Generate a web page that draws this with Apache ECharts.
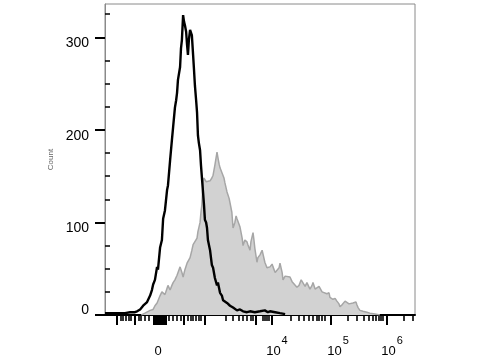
<!DOCTYPE html>
<html>
<head>
<meta charset="utf-8">
<script src="https://cdn.jsdelivr.net/npm/echarts@6/dist/echarts.min.js"></script>
<style>html,body{margin:0;padding:0;background:#fff;}#c{width:480px;height:360px;}</style>
</head>
<body>
<div id="c"></div>
<script>
// Histogram data (x = display channel on biexponential axis, 0..1024; y = count)
const blackChannel = [0,33,66,83,99,106,116,126,132,139,149,155,159,165,172,175,182,188,192,198,205,208,215,221,225,231,235,238,241,248,251,254,258,261,264,268,271,274,277,281,284,287,291,294,297,301,304,307,310,314,317,320,324,327,330,334,337,340,347,350,353,357,363,370,373,380,386,390,396,403,413,423,436,446,456,469,479,495,512,528,538,545,562,578,595];
const blackCount = [2,2,2,3,3,4,6,10,9,14,21,27,33,38,52,49,73,81,104,113,135,140,167,189,203,224,232,240,254,268,288,297,324,317,313,306,292,281,297,308,310,302,281,265,248,232,219,194,186,178,162,149,132,119,103,100,94,81,70,62,54,51,40,32,35,24,21,16,17,13,10,8,5,6,4,3,4,3,4,5,3,4,3,2,1];

const greyChannel = [120,132,149,159,165,172,182,188,192,198,205,208,215,221,225,231,238,248,254,258,264,271,277,281,287,291,297,304,307,314,317,320,324,327,330,334,337,340,347,353,357,363,367,370,373,377,380,386,393,396,403,410,413,419,423,426,429,433,436,439,446,453,456,462,469,472,479,482,489,492,495,502,505,512,519,522,528,535,538,545,552,555,562,568,575,578,585,588,595,601,611,618,624,634,641,648,654,661,667,677,684,687,694,700,707,710,717,723,733,740,743,753,760,766,773,776,783,786,793,799,806,809,819,829,832,836,842,852,865,875,892,908];
const greyCount = [0,2,5,6,10,13,21,25,24,22,29,32,27,32,35,38,43,52,46,41,49,56,57,62,70,76,78,83,90,100,111,119,144,148,149,144,146,142,145,148,151,162,170,176,170,163,159,154,148,143,133,126,121,111,94,97,100,107,104,105,95,83,75,81,79,76,70,79,89,81,72,57,62,65,70,68,57,51,49,52,55,52,46,45,51,56,46,38,42,40,41,36,38,30,32,38,37,31,35,28,32,35,28,27,31,30,25,27,23,24,19,17,18,15,12,9,11,13,15,14,12,14,13,14,11,8,5,4,3,2,1,0];

// Axis ticks and labels
const yMajorTicks = [0,100,200,300];
const yMinorTicks = [25,50,75,125,150,175,225,250,275,325];
const xLongTicks = [40,99,162,168,175,182,188,195,201,261,330,499,552,746,931];
const xShortTicks = [53,59,69,79,86,112,119,132,145,211,225,238,251,274,284,291,301,310,317,400,423,443,456,469,482,489,522,528,535,542,614,641,657,674,687,700,707,717,727,803,832,855,872,885,895,905,912,918,988,1017];
const xLabelPos = [182,568,770,948];
const xLabelText = ['0','10^4','10^5','10^6'];

function zip(a,b){ const n=Math.min(a.length,b.length); const r=[]; for(let i=0;i<n;i++) r.push([a[i],b[i]]); return r; }

const FONT = "'Liberation Sans', Arial, sans-serif";
const X_MIN = 0, X_MAX = 1024, Y_MIN = 0, Y_MAX = 336;

const chart = echarts.init(document.getElementById('c'), null, {renderer:'canvas'});
chart.setOption({
  animation: false,
  backgroundColor: '#fff',
  grid: { left:105, right:65, top:4, bottom:45, show:true, borderColor:'#8a8a8a', borderWidth:1, backgroundColor:'transparent' },
  xAxis: [
    { type:'value', min:X_MIN, max:X_MAX, position:'bottom', offset:0,
      axisLine:{ show:true, onZero:false, lineStyle:{ color:'#000', width:2 } },
      axisTick:{ show:true, customValues:xLongTicks, length:10, lineStyle:{ color:'#000', width:2 } },
      axisLabel:{ show:false }, splitLine:{ show:false } },
    { type:'value', min:X_MIN, max:X_MAX, position:'bottom', offset:0,
      axisLine:{ show:false, onZero:false },
      axisTick:{ show:true, customValues:xShortTicks, length:6, lineStyle:{ color:'#000', width:1.6 } },
      axisLabel:{ show:false }, splitLine:{ show:false } },
    { type:'value', min:X_MIN, max:X_MAX, position:'bottom', offset:0,
      axisLine:{ show:false, onZero:false }, axisTick:{ show:false },
      splitLine:{ show:false },
      axisLabel:{ show:true, customValues:xLabelPos, margin:29, color:'#000', fontFamily:FONT,
        formatter: function(v){
          const i = xLabelPos.indexOf(v);
          const t = i >= 0 ? xLabelText[i] : '';
          const p = t.split('^');
          return '{b|' + p[0] + '}{s|' + (p[1] || ' ') + '}';
        },
        rich:{
          b:{ fontSize:13, lineHeight:14, fontFamily:FONT, color:'#000', verticalAlign:'bottom' },
          s:{ fontSize:11, lineHeight:11, fontFamily:FONT, color:'#000', verticalAlign:'bottom', padding:[0,0,12,1] }
        } } }
  ],
  yAxis: [
    { type:'value', min:Y_MIN, max:Y_MAX,
      name:'Count', nameLocation:'middle', nameGap:44, nameRotate:90,
      nameTextStyle:{ fontSize:8, color:'#666', fontFamily:FONT },
      axisLine:{ show:true, lineStyle:{ color:'#8a8a8a', width:1 } },
      axisTick:{ show:true, customValues:yMajorTicks, length:10, lineStyle:{ color:'#000', width:2 } },
      axisLabel:{ show:true, customValues:yMajorTicks, margin:16, color:'#000', fontFamily:FONT, fontSize:14,
        formatter: function(v){ return v === 0 ? '{z|0}' : '{n|' + v + '}'; },
        rich:{
          n:{ fontSize:14, fontFamily:FONT, color:'#000', padding:[12,0,0,0] },
          z:{ fontSize:14, fontFamily:FONT, color:'#000', padding:[0,0,10,0] }
        } },
      splitLine:{ show:false } },
    { type:'value', min:Y_MIN, max:Y_MAX,
      axisLine:{ show:false },
      axisTick:{ show:true, customValues:yMinorTicks, length:5, lineStyle:{ color:'#000', width:1.5 } },
      axisLabel:{ show:false }, splitLine:{ show:false } }
  ],
  series: [
    { type:'line', xAxisIndex:0, yAxisIndex:0, data: zip(greyChannel, greyCount), symbol:'none',
      lineStyle:{ color:'#a6a6a6', width:1.5 }, areaStyle:{ color:'#d2d2d2', opacity:1 }, z:2 },
    { type:'line', xAxisIndex:0, yAxisIndex:0, data: zip(blackChannel, blackCount), symbol:'none',
      lineStyle:{ color:'#000', width:2.4 }, z:3 }
  ]
});
</script>
</body>
</html>
